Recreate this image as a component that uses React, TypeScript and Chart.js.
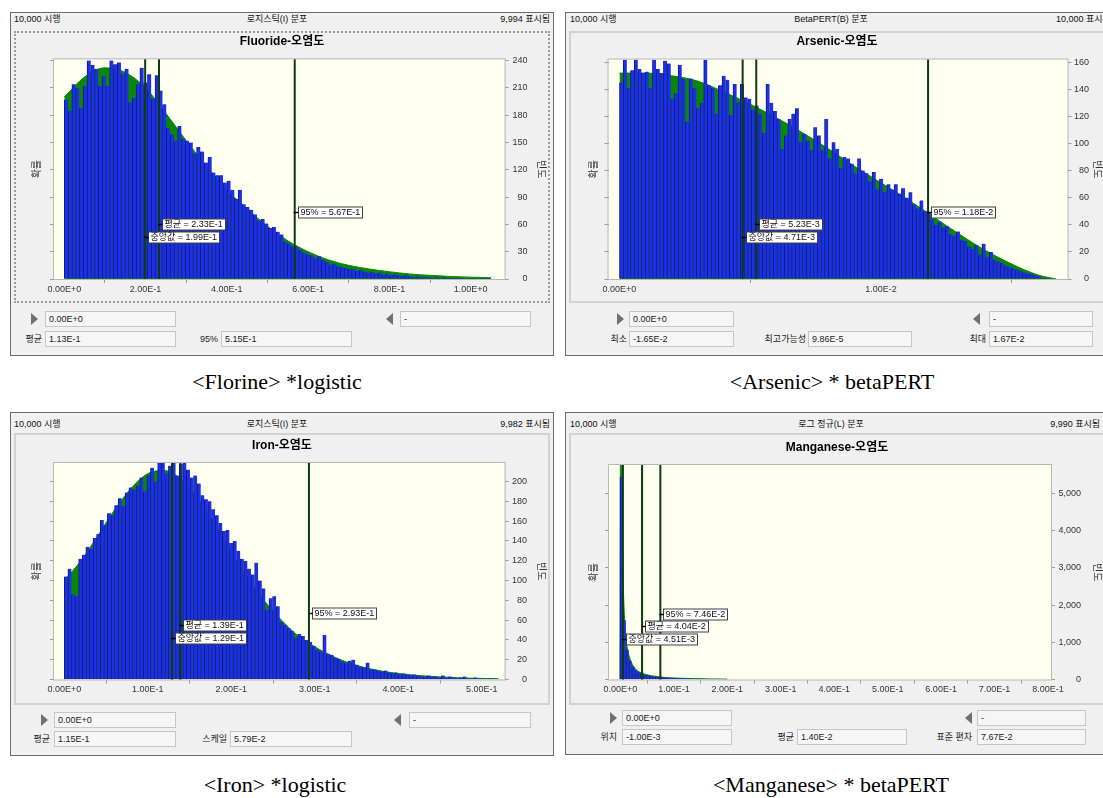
import React, { useEffect, useRef } from "react";
import { Chart, registerables } from "chart.js";
Chart.register(...registerables);

const FONT = "'Liberation Sans', 'Noto Sans CJK KR', 'DejaVu Sans', sans-serif";
const SERIF = "'Liberation Serif', 'DejaVu Serif', serif";

// ---------------- data ----------------
const markerNames = ["중앙값", "평균", "95%"];

// Fluoride
const fluorideBinStart = 0;
const fluorideBinWidth = 0.0093;
const fluorideCounts = [
  197, 185, 214, 210, 188, 212, 240, 235, 231, 212,
  223, 212, 240, 236, 238, 225, 231, 194, 199, 214,
  232, 216, 225, 198, 224, 207, 192, 166, 159, 152,
  168, 154, 152, 150, 138, 145, 140, 128, 134, 117,
  114, 114, 106, 108, 98, 88, 98, 82, 79, 76,
  71, 64, 66, 61, 56, 57, 52, 49, 41, 39,
  36, 35, 32, 29, 27, 26, 23, 25, 21, 19,
  16, 17, 14, 13, 12, 11, 11, 9, 10, 8,
  7, 8, 6, 7, 5, 6, 4, 5, 4, 3,
  4, 3, 2, 3, 2, 2, 2, 1, 2, 1,
  2, 1, 1, 1, 1, 1, 0, 1, 1, 0,
  1, 1, 1,
];
const fluorideFitX = [0, 0.05, 0.1, 0.15, 0.2, 0.25, 0.3, 0.35, 0.4, 0.45, 0.5, 0.55, 0.6, 0.65, 0.7, 0.75, 0.8, 0.85, 0.9, 0.95, 1.0, 1.05];
const fluorideFitY = [200, 222, 232, 227, 210, 182, 152, 124, 98, 77, 58, 42, 30, 21, 15, 11, 8, 5.5, 4, 2.8, 2, 1.4];
const fluorideXTicks = [0, 0.2, 0.4, 0.6, 0.8, 1.0];
const fluorideYTicks = [0, 30, 60, 90, 120, 150, 180, 210, 240];
const fluorideMarkers = [0.199, 0.233, 0.567];

// Arsenic
const arsenicBinStart = 0;
const arsenicBinWidth = 0.00014;
const arsenicCounts = [
  145, 162, 141, 154, 162, 155, 152, 153, 141, 162,
  155, 152, 161, 159, 133, 137, 158, 148, 116, 148,
  141, 126, 130, 162, 143, 141, 122, 143, 150, 147,
  121, 144, 130, 144, 134, 133, 125, 128, 122, 108,
  144, 130, 124, 118, 96, 106, 118, 122, 126, 101,
  107, 102, 95, 112, 106, 95, 118, 89, 101, 96,
  82, 90, 89, 85, 78, 89,
  80, 78, 72, 79, 66, 74, 64, 70,
  66, 70, 63, 67, 60, 64, 55, 52, 58, 50,
  49, 44, 40, 42, 38, 39, 33, 32, 35, 29,
  28, 24, 22, 25, 18, 26, 16, 20, 14, 13,
  12, 10, 9, 8, 7, 6, 5, 4, 4, 3,
  2, 1, 1, 0,
];
const arsenicFitX = [0, 0.001, 0.002, 0.003, 0.004, 0.005, 0.006, 0.007, 0.008, 0.009, 0.01, 0.011, 0.012, 0.013, 0.014, 0.015, 0.016, 0.0167];
const arsenicFitY = [152, 152, 150, 146, 138, 129, 119, 108, 96, 83, 71, 59, 46, 33, 21, 11, 3, 0];
const arsenicXTicks = [0, 0.01];
const arsenicYTicks = [0, 20, 40, 60, 80, 100, 120, 140, 160];
const arsenicMarkers = [0.00471, 0.00523, 0.0118];

// Iron
const ironBinStart = 0;
const ironBinWidth = 0.0043;
const ironCounts = [
  104, 112, 86, 84, 122, 126, 134, 132, 143, 147,
  161, 156, 168, 166, 176, 183, 175, 189, 194, 192,
  196, 204, 190, 206, 214, 200, 220, 226, 208, 216,
  222, 206, 218, 226, 212, 204, 206, 198, 186, 182,
  180, 172, 166, 158, 150, 151, 138, 140, 130, 122,
  120, 112, 106, 118, 100, 92, 70, 82, 84, 74,
  58, 55, 52, 49, 42, 46, 44, 40, 38, 34,
  30, 28, 45, 26, 25, 22, 21, 18, 17, 19,
  20, 15, 13, 12, 17, 10, 10, 9, 8, 9,
  7, 6, 7, 5, 6, 5, 4, 5, 4, 3,
  3, 4, 3, 3, 2, 4, 2, 3, 2, 1,
  2, 3, 1, 1, 2, 1, 1, 0, 1, 1,
];
const ironFitX = [0, 0.02, 0.04, 0.06, 0.08, 0.1, 0.12, 0.14, 0.16, 0.18, 0.2, 0.22, 0.24, 0.26, 0.28, 0.3, 0.32, 0.34, 0.36, 0.38, 0.4, 0.42, 0.44, 0.46, 0.48, 0.5, 0.52];
const ironFitY = [100, 120, 145, 171, 193, 208, 211, 202, 183, 157, 129, 102, 79, 60, 44, 33, 24, 17, 12, 8.5, 6.1, 4.3, 3.1, 2.2, 1.5, 1.1, 0.8];
const ironXTicks = [0, 0.1, 0.2, 0.3, 0.4, 0.5];
const ironYTicks = [0, 20, 40, 60, 80, 100, 120, 140, 160, 180, 200];
const ironMarkers = [0.129, 0.139, 0.293];

// Manganese
const manganeseBinStart = -0.001;
const manganeseBinWidth = 0.0055;
const manganeseCounts = [
  5450, 1600, 800, 500, 340, 250, 196, 162, 131, 112,
  96, 81, 73, 62, 57, 50, 45, 42, 37, 35,
  31, 29, 27, 25, 23, 21, 20, 19, 17, 16,
  15, 14, 13, 12, 12, 11, 10,
];
const manganeseFitX = [-0.001, 0.0002, 0.0015, 0.003, 0.0045, 0.00725, 0.01, 0.01275, 0.01825, 0.02375, 0.02925, 0.03475, 0.04025, 0.057, 0.0845, 0.112, 0.167, 0.2];
const manganeseFitY = [0, 7600, 6800, 4600, 3000, 1750, 1200, 850, 540, 370, 265, 205, 165, 104, 55, 34, 16, 11];
const manganeseXTicks = [0, 0.1, 0.2, 0.3, 0.4, 0.5, 0.6, 0.7, 0.8];
const manganeseYTicks = [0, 1000, 2000, 3000, 4000, 5000];
const manganeseMarkers = [0.00451, 0.0404, 0.0746];

// ---------------- style ----------------
const BAR = "#1d31e2";
const BAR_EDGE = "#0c1a8a";
const GREEN = "#0a860a";
const LINE_COLOR = "#0e3a0e";
const PLOT_BG = "#fffff0";
const FRAME = "#b8b8b8";
const PANEL_BG = "#f0f0f0";
const TICK_COLOR = "#9a9a9a";
const TICK_LEN = 4;
const MARKER_FRAC = [0.19, 0.25, 0.306];

const fmtE = (v: number) => v.toExponential(2).toUpperCase();
const fmtY = (v: number) => v.toLocaleString("en-US");

type Row2Item = { label: string; labelRight: number; box: [number, number]; value: string };
type Spec = {
  outer: { left: number; top: number; width: number; height: number };
  focused: boolean;
  headerY: number;
  headerLeft: string;
  headerLeftX: number;
  headerCenter: string;
  headerCenterX: number;
  headerRight: string;
  headerRightX: number;
  headerRightAlign: "left" | "right";
  canvas: { left: number; top: number; width: number; height: number };
  area: { left: number; right: number; top: number; bottom: number };
  title: string;
  titleY: number;
  binStart: number;
  binWidth: number;
  counts: number[];
  fitX: number[];
  fitY: number[];
  xMin: number;
  xMax: number;
  xTicks: number[];
  xLabelY: number;
  yMax: number;
  yTicks: number[];
  yLabelRight: number;
  leftTitleX: number;
  rightTitleX: number;
  markers: number[];
  row1Top: number;
  rightArrowX: number;
  box1: [number, number];
  row1Value: string;
  leftArrowX: number;
  box2: [number, number];
  row2Value: string;
  row2Top: number;
  row2: Row2Item[];
  caption: string;
  captionX: number;
  captionY: number;
};

const specs: Spec[] = [
  {
    outer: { left: 10, top: 12, width: 544, height: 344 },
    focused: true,
    headerY: 19,
    headerLeft: "10,000 시행",
    headerLeftX: 14,
    headerCenter: "로지스틱(I) 분포",
    headerCenterX: 277,
    headerRight: "9,994 표시됨",
    headerRightX: 550,
    headerRightAlign: "right",
    canvas: { left: 14, top: 31, width: 536, height: 272 },
    area: { left: 54, right: 504.6, top: 59.3, bottom: 279 },
    title: "Fluoride-오염도",
    titleY: 42,
    binStart: fluorideBinStart,
    binWidth: fluorideBinWidth,
    counts: fluorideCounts,
    fitX: fluorideFitX,
    fitY: fluorideFitY,
    xMin: -0.0253,
    xMax: 1.0834,
    xTicks: fluorideXTicks,
    xLabelY: 290,
    yMax: 241.4,
    yTicks: fluorideYTicks,
    yLabelRight: 527.5,
    leftTitleX: 37.5,
    rightTitleX: 541,
    markers: fluorideMarkers,
    row1Top: 311,
    rightArrowX: 31,
    box1: [45, 176],
    row1Value: "0.00E+0",
    leftArrowX: 386,
    box2: [400, 531],
    row2Value: "-",
    row2Top: 331,
    row2: [
      { label: "평균", labelRight: 42, box: [45, 176], value: "1.13E-1" },
      { label: "95%", labelRight: 218, box: [221, 352], value: "5.15E-1" },
    ],
    caption: "<Florine> *logistic",
    captionX: 277,
    captionY: 382,
  },
  {
    outer: { left: 565, top: 12, width: 541, height: 344 },
    focused: false,
    headerY: 19,
    headerLeft: "10,000 시행",
    headerLeftX: 570,
    headerCenter: "BetaPERT(B) 분포",
    headerCenterX: 831,
    headerRight: "10,000 표시됨",
    headerRightX: 1056,
    headerRightAlign: "left",
    canvas: { left: 569, top: 31, width: 536, height: 272 },
    area: { left: 608.5, right: 1067.6, top: 59.5, bottom: 279 },
    title: "Arsenic-오염도",
    titleY: 42,
    binStart: arsenicBinStart,
    binWidth: arsenicBinWidth,
    counts: arsenicCounts,
    fitX: arsenicFitX,
    fitY: arsenicFitY,
    xMin: -0.00042,
    xMax: 0.017136,
    xTicks: arsenicXTicks,
    xLabelY: 290,
    yMax: 162,
    yTicks: arsenicYTicks,
    yLabelRight: 1089,
    leftTitleX: 594,
    rightTitleX: 1097,
    markers: arsenicMarkers,
    row1Top: 311,
    rightArrowX: 617,
    box1: [629, 734],
    row1Value: "0.00E+0",
    leftArrowX: 973,
    box2: [989, 1093],
    row2Value: "-",
    row2Top: 331,
    row2: [
      { label: "최소", labelRight: 627, box: [629, 734], value: "-1.65E-2" },
      { label: "최고가능성", labelRight: 806, box: [808, 912], value: "9.86E-5" },
      { label: "최대", labelRight: 986, box: [989, 1093], value: "1.67E-2" },
    ],
    caption: "<Arsenic> * betaPERT",
    captionX: 832,
    captionY: 382,
  },
  {
    outer: { left: 10, top: 412, width: 544, height: 344 },
    focused: false,
    headerY: 424,
    headerLeft: "10,000 시행",
    headerLeftX: 14,
    headerCenter: "로지스틱(I) 분포",
    headerCenterX: 277,
    headerRight: "9,982 표시됨",
    headerRightX: 550,
    headerRightAlign: "right",
    canvas: { left: 14, top: 433, width: 536, height: 272 },
    area: { left: 54, right: 504.6, top: 463, bottom: 679.5 },
    title: "Iron-오염도",
    titleY: 446,
    binStart: ironBinStart,
    binWidth: ironBinWidth,
    counts: ironCounts,
    fitX: ironFitX,
    fitY: ironFitY,
    xMin: -0.0123,
    xMax: 0.5273,
    xTicks: ironXTicks,
    xLabelY: 690,
    yMax: 218.7,
    yTicks: ironYTicks,
    yLabelRight: 527,
    leftTitleX: 37.5,
    rightTitleX: 541,
    markers: ironMarkers,
    row1Top: 712,
    rightArrowX: 41,
    box1: [54, 176],
    row1Value: "0.00E+0",
    leftArrowX: 394,
    box2: [409, 531],
    row2Value: "-",
    row2Top: 731,
    row2: [
      { label: "평균", labelRight: 50, box: [54, 176], value: "1.15E-1" },
      { label: "스케일", labelRight: 227, box: [230, 352], value: "5.79E-2" },
    ],
    caption: "<Iron> *logistic",
    captionX: 275,
    captionY: 785,
  },
  {
    outer: { left: 565, top: 412, width: 541, height: 343 },
    focused: false,
    headerY: 424,
    headerLeft: "10,000 시행",
    headerLeftX: 570,
    headerCenter: "로그 정규(L) 분포",
    headerCenterX: 831,
    headerRight: "9,990 표시됨",
    headerRightX: 1100,
    headerRightAlign: "right",
    canvas: { left: 569, top: 433, width: 536, height: 272 },
    area: { left: 609, right: 1051, top: 465, bottom: 679.5 },
    title: "Manganese-오염도",
    titleY: 448,
    binStart: manganeseBinStart,
    binWidth: manganeseBinWidth,
    counts: manganeseCounts,
    fitX: manganeseFitX,
    fitY: manganeseFitY,
    xMin: -0.0215,
    xMax: 0.8056,
    xTicks: manganeseXTicks,
    xLabelY: 690,
    yMax: 5766,
    yTicks: manganeseYTicks,
    yLabelRight: 1081,
    leftTitleX: 594,
    rightTitleX: 1097,
    markers: manganeseMarkers,
    row1Top: 710,
    rightArrowX: 610,
    box1: [622, 732],
    row1Value: "0.00E+0",
    leftArrowX: 965,
    box2: [977, 1086],
    row2Value: "-",
    row2Top: 729,
    row2: [
      { label: "위치", labelRight: 617, box: [622, 732], value: "-1.00E-3" },
      { label: "평균", labelRight: 794, box: [797, 907], value: "1.40E-2" },
      { label: "표준 편차", labelRight: 972, box: [977, 1086], value: "7.67E-2" },
    ],
    caption: "<Manganese> * betaPERT",
    captionX: 831,
    captionY: 785,
  },
];

function makeDecoPlugin(s: Spec) {
  return {
    id: "plotDeco",
    beforeDraw(chart: any) {
      const { ctx, chartArea: a } = chart;
      ctx.save();
      ctx.fillStyle = PLOT_BG;
      ctx.fillRect(a.left, a.top, a.right - a.left, a.bottom - a.top);
      ctx.restore();
    },
    afterDatasetsDraw(chart: any) {
      const { ctx, chartArea: a, scales } = chart;
      const xs = scales.x;
      ctx.save();
      ctx.strokeStyle = FRAME;
      ctx.lineWidth = 1;
      ctx.strokeRect(a.left - 0.5, a.top - 0.5, a.right - a.left + 1, a.bottom - a.top + 1);
      const px = s.markers.map((v) => xs.getPixelForValue(v));
      ctx.strokeStyle = LINE_COLOR;
      ctx.lineWidth = 2;
      px.forEach((x) => {
        ctx.beginPath();
        ctx.moveTo(x, a.top);
        ctx.lineTo(x, a.bottom);
        ctx.stroke();
      });
      ctx.font = `9px ${FONT}`;
      ctx.textBaseline = "middle";
      s.markers.forEach((v, i) => {
        const x = px[i];
        const y = Math.round(a.bottom - MARKER_FRAC[i] * (a.bottom - a.top)) + 0.5;
        const text = `${markerNames[i]} = ${fmtE(v)}`;
        const w = Math.ceil(ctx.measureText(text).width) + 4;
        const h = 11;
        const bx = Math.round(x + 3) + 0.5;
        ctx.fillStyle = "#ffffff";
        ctx.fillRect(bx, y - h / 2, w, h);
        ctx.strokeStyle = "#404040";
        ctx.lineWidth = 1;
        ctx.strokeRect(bx, y - h / 2, w, h);
        ctx.strokeStyle = "#000000";
        ctx.lineWidth = 1.5;
        ctx.beginPath();
        ctx.moveTo(x - 1, y);
        ctx.lineTo(bx, y);
        ctx.stroke();
        ctx.fillStyle = "#111111";
        ctx.fillText(text, bx + 2, y + 0.5);
      });
      ctx.restore();
    },
  };
}

function HistChart({ s }: { s: Spec }) {
  const ref = useRef<HTMLCanvasElement | null>(null);
  useEffect(() => {
    if (!ref.current) return;
    const c = s.canvas;
    const a = s.area;
    const rp = c.left + c.width - s.yLabelRight;
    const leftAxisW = a.left - c.left - rp;
    const rightAxisW = s.yLabelRight - a.right;
    const xH = c.top + c.height - a.bottom;
    const titleBox = a.top - c.top;
    const tLH = 12 * 1.2;
    const tPadTop = s.titleY - c.top - tLH / 2;
    const tPadBottom = titleBox - tLH - tPadTop;
    const aLH = 10 * 1.2;
    const leftTitlePad = s.leftTitleX - (c.left + rp) - aLH / 2;
    const rightTitlePad = s.yLabelRight - s.rightTitleX - aLH / 2;
    const xLabelPad = s.xLabelY - a.bottom - TICK_LEN - (9 * 1.2) / 2;

    const barData = s.counts.map((y, i) => ({ x: s.binStart + (i + 0.5) * s.binWidth, y }));
    const fitData = s.fitX.map((x, i) => ({ x, y: s.fitY[i] }));
    const setYTicks = (scale: any) => {
      scale.ticks = s.yTicks.map((v) => ({ value: v }));
    };
    const grid = {
      display: true,
      drawOnChartArea: false,
      drawTicks: true,
      tickLength: TICK_LEN,
      color: TICK_COLOR,
    };
    const chart = new Chart(ref.current, {
      type: "bar",
      data: {
        datasets: [
          {
            type: "bar",
            data: barData as any,
            backgroundColor: BAR,
            borderColor: BAR_EDGE,
            borderWidth: { left: 1, right: 0, top: 0, bottom: 0 } as any,
            barPercentage: 1,
            categoryPercentage: 1,
            order: 1,
          } as any,
          {
            type: "line",
            data: fitData as any,
            borderColor: GREEN,
            backgroundColor: GREEN,
            borderWidth: 1,
            fill: "origin",
            pointRadius: 0,
            cubicInterpolationMode: "monotone",
            order: 2,
          } as any,
        ],
      },
      options: {
        responsive: true,
        maintainAspectRatio: false,
        animation: false,
        events: [],
        layout: { padding: { left: rp, right: rp, top: 0, bottom: 0 } },
        plugins: {
          legend: { display: false },
          tooltip: { enabled: false },
          title: {
            display: true,
            text: s.title,
            color: "#000",
            font: { family: FONT, size: 12, weight: "bold" },
            padding: { top: tPadTop, bottom: tPadBottom },
          },
        },
        scales: {
          x: {
            type: "linear",
            min: s.xMin,
            max: s.xMax,
            offset: false,
            grid,
            border: { display: false },
            ticks: {
              autoSkip: false,
              maxRotation: 0,
              padding: xLabelPad,
              color: "#333",
              font: { family: FONT, size: 9 },
              callback: (v: any) => fmtE(Number(v)),
            },
            afterBuildTicks: (scale: any) => {
              scale.ticks = s.xTicks.map((v) => ({ value: v }));
            },
            afterFit: (scale: any) => {
              scale.height = xH;
            },
          },
          y: {
            type: "linear",
            position: "left",
            min: 0,
            max: s.yMax,
            grid,
            border: { display: false },
            ticks: { callback: () => "", font: { family: FONT, size: 9 } },
            title: {
              display: true,
              text: "확률",
              color: "#333",
              font: { family: FONT, size: 10 },
              padding: { top: leftTitlePad, bottom: 0 },
            },
            afterBuildTicks: setYTicks,
            afterFit: (scale: any) => {
              scale.width = leftAxisW;
            },
          },
          y2: {
            type: "linear",
            position: "right",
            min: 0,
            max: s.yMax,
            grid,
            border: { display: false },
            ticks: {
              crossAlign: "far",
              padding: 0,
              color: "#333",
              font: { family: FONT, size: 9 },
              callback: (v: any) => fmtY(Number(v)),
            },
            title: {
              display: true,
              text: "빈도",
              color: "#333",
              font: { family: FONT, size: 10 },
              padding: { top: rightTitlePad, bottom: 0 },
            },
            afterBuildTicks: setYTicks,
            afterFit: (scale: any) => {
              scale.width = rightAxisW;
            },
          },
        },
      } as any,
      plugins: [makeDecoPlugin(s) as any],
    });
    return () => chart.destroy();
  }, [s]);
  const c = s.canvas;
  return (
    <div style={{ position: "absolute", left: c.left, top: c.top, width: c.width, height: c.height }}>
      <canvas ref={ref} />
    </div>
  );
}

const fieldStyle = (l: number, r: number, top: number): React.CSSProperties => ({
  position: "absolute",
  left: l,
  top,
  width: r - l,
  height: 16,
  boxSizing: "border-box",
  border: "1px solid #c6c6c6",
  background: "#f6f6f6",
  fontSize: 9,
  lineHeight: "14px",
  paddingLeft: 3,
  color: "#222",
  whiteSpace: "nowrap",
  overflow: "hidden",
});

function Panel({ s }: { s: Spec }) {
  const o = s.outer;
  const hTop = s.headerY - 6;
  return (
    <>
      <div
        style={{
          position: "absolute",
          left: o.left,
          top: o.top,
          width: o.width,
          height: o.height,
          background: PANEL_BG,
          border: "1px solid #6a6a6a",
          boxSizing: "border-box",
        }}
      />
      <div style={{ position: "absolute", left: s.headerLeftX, top: hTop, fontSize: 9, lineHeight: "12px", whiteSpace: "nowrap", color: "#111" }}>
        {s.headerLeft}
      </div>
      <div
        style={{
          position: "absolute",
          left: s.headerCenterX - 100,
          width: 200,
          textAlign: "center",
          top: hTop,
          fontSize: 9,
          lineHeight: "12px",
          whiteSpace: "nowrap",
          color: "#111",
        }}
      >
        {s.headerCenter}
      </div>
      {s.headerRightAlign === "right" ? (
        <div
          style={{
            position: "absolute",
            left: s.headerRightX - 120,
            width: 120,
            textAlign: "right",
            top: hTop,
            fontSize: 9,
            lineHeight: "12px",
            whiteSpace: "nowrap",
            color: "#111",
          }}
        >
          {s.headerRight}
        </div>
      ) : (
        <div style={{ position: "absolute", left: s.headerRightX, top: hTop, fontSize: 9, lineHeight: "12px", whiteSpace: "nowrap", color: "#111" }}>
          {s.headerRight}
        </div>
      )}
      <div
        style={{
          position: "absolute",
          left: s.canvas.left,
          top: s.canvas.top,
          width: s.canvas.width,
          height: s.canvas.height,
          boxSizing: "border-box",
          border: s.focused ? "2px dotted #9c9c9c" : "2px solid #d2d2d2",
        }}
      />
      <HistChart s={s} />
      <div
        style={{
          position: "absolute",
          left: s.rightArrowX,
          top: s.row1Top + 2,
          width: 0,
          height: 0,
          borderTop: "6px solid transparent",
          borderBottom: "6px solid transparent",
          borderLeft: "7px solid #707070",
        }}
      />
      <div style={fieldStyle(s.box1[0], s.box1[1], s.row1Top)}>{s.row1Value}</div>
      <div
        style={{
          position: "absolute",
          left: s.leftArrowX,
          top: s.row1Top + 2,
          width: 0,
          height: 0,
          borderTop: "6px solid transparent",
          borderBottom: "6px solid transparent",
          borderRight: "7px solid #707070",
        }}
      />
      <div style={fieldStyle(s.box2[0], s.box2[1], s.row1Top)}>{s.row2Value}</div>
      {s.row2.map((it, i) => (
        <React.Fragment key={i}>
          <div
            style={{
              position: "absolute",
              left: it.labelRight - 90,
              width: 90,
              textAlign: "right",
              top: s.row2Top,
              fontSize: 9,
              lineHeight: "16px",
              color: "#222",
              whiteSpace: "nowrap",
            }}
          >
            {it.label}
          </div>
          <div style={fieldStyle(it.box[0], it.box[1], s.row2Top)}>{it.value}</div>
        </React.Fragment>
      ))}
      <div
        style={{
          position: "absolute",
          left: s.captionX - 250,
          width: 500,
          textAlign: "center",
          top: s.captionY - 13,
          fontSize: 22,
          lineHeight: "26px",
          fontFamily: SERIF,
          color: "#000",
          whiteSpace: "nowrap",
        }}
      >
        {s.caption}
      </div>
    </>
  );
}

export default function App() {
  return (
    <div
      style={{
        position: "absolute",
        left: 0,
        top: 0,
        width: 1103,
        height: 798,
        overflow: "hidden",
        background: "#ffffff",
        fontFamily: FONT,
      }}
    >
      {specs.map((s, i) => (
        <Panel key={i} s={s} />
      ))}
    </div>
  );
}
